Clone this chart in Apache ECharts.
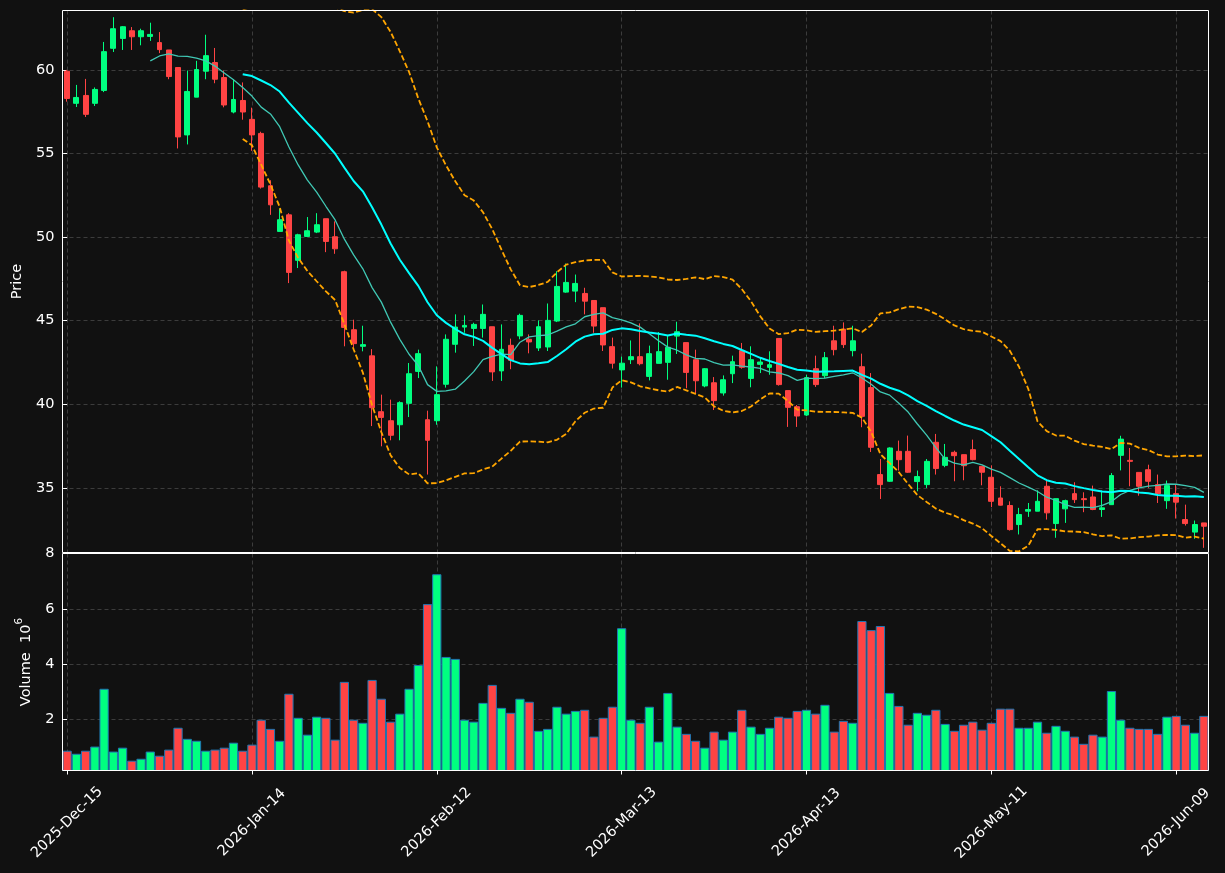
<!DOCTYPE html>
<html>
<head>
<meta charset="utf-8">
<script src="https://cdn.jsdelivr.net/npm/echarts@6/dist/echarts.min.js"></script>
<style>
html,body{margin:0;padding:0;background:#111111;}
#chart{width:1225px;height:873px;}
</style>
</head>
<body>
<div id="chart"></div>
<script>
const dates = [
'2025-Dec-15','2025-Dec-16','2025-Dec-17','2025-Dec-18','2025-Dec-19','2025-Dec-22','2025-Dec-23','2025-Dec-24','2025-Dec-26','2025-Dec-29','2025-Dec-30','2025-Dec-31',
'2026-Jan-02','2026-Jan-05','2026-Jan-06','2026-Jan-07','2026-Jan-08','2026-Jan-09','2026-Jan-12','2026-Jan-13','2026-Jan-14','2026-Jan-15','2026-Jan-16','2026-Jan-20','2026-Jan-21','2026-Jan-22','2026-Jan-23','2026-Jan-26','2026-Jan-27','2026-Jan-28','2026-Jan-29','2026-Jan-30',
'2026-Feb-02','2026-Feb-03','2026-Feb-04','2026-Feb-05','2026-Feb-06','2026-Feb-09','2026-Feb-10','2026-Feb-11','2026-Feb-12','2026-Feb-13','2026-Feb-17','2026-Feb-18','2026-Feb-19','2026-Feb-20','2026-Feb-23','2026-Feb-24','2026-Feb-25','2026-Feb-26','2026-Feb-27',
'2026-Mar-02','2026-Mar-03','2026-Mar-04','2026-Mar-05','2026-Mar-06','2026-Mar-09','2026-Mar-10','2026-Mar-11','2026-Mar-12','2026-Mar-13','2026-Mar-16','2026-Mar-17','2026-Mar-18','2026-Mar-19','2026-Mar-20','2026-Mar-23','2026-Mar-24','2026-Mar-25','2026-Mar-26','2026-Mar-27','2026-Mar-30','2026-Mar-31',
'2026-Apr-01','2026-Apr-02','2026-Apr-06','2026-Apr-07','2026-Apr-08','2026-Apr-09','2026-Apr-10','2026-Apr-13','2026-Apr-14','2026-Apr-15','2026-Apr-16','2026-Apr-17','2026-Apr-20','2026-Apr-21','2026-Apr-22','2026-Apr-23','2026-Apr-24','2026-Apr-27','2026-Apr-28','2026-Apr-29','2026-Apr-30',
'2026-May-01','2026-May-04','2026-May-05','2026-May-06','2026-May-07','2026-May-08','2026-May-11','2026-May-12','2026-May-13','2026-May-14','2026-May-15','2026-May-18','2026-May-19','2026-May-20','2026-May-21','2026-May-22','2026-May-26','2026-May-27','2026-May-28','2026-May-29',
'2026-Jun-01','2026-Jun-02','2026-Jun-03','2026-Jun-04','2026-Jun-05','2026-Jun-08','2026-Jun-09','2026-Jun-10','2026-Jun-11','2026-Jun-12'
];

const opens = [
59.92,58.0,58.47,58.0,58.77,61.29,61.88,62.34,61.98,62.0,61.63,61.19,60.14,56.11,58.37,59.92,60.44,59.54,57.48,58.17,
57.04,56.2,53.07,50.34,51.33,48.61,50.04,50.3,51.1,50.02,47.93,44.46,43.47,42.9,39.56,39.02,38.78,40.06,41.97,39.08,
39.02,41.2,43.59,44.62,44.54,44.54,44.64,42.0,43.53,44.09,43.89,43.37,43.43,44.98,46.71,46.77,46.63,46.21,45.78,43.45,
42.06,42.67,42.85,41.67,42.45,42.51,44.08,43.69,42.67,41.1,41.29,40.68,41.83,43.21,41.55,42.39,42.21,43.94,40.82,39.86,
39.36,42.13,41.71,43.8,44.5,43.21,42.25,41.0,35.8,35.4,37.19,37.19,35.38,35.2,37.73,36.35,37.13,36.99,37.29,36.29,
35.64,34.4,33.95,32.81,33.61,33.61,35.1,32.87,33.75,34.66,34.36,34.46,33.71,34.0,36.95,36.65,35.93,36.09,35.2,34.24,
34.66,33.11,32.36,32.91
];
const closes = [
58.29,58.35,57.34,58.83,61.09,62.46,62.58,61.98,62.34,62.12,61.21,59.6,55.99,58.71,60.02,60.85,59.44,57.9,58.23,57.48,
56.11,52.99,51.93,51.04,47.89,50.14,50.38,50.74,49.74,49.3,44.6,43.63,43.57,39.8,39.22,38.15,40.1,41.83,43.03,37.85,
40.58,43.89,44.62,44.72,44.78,45.38,41.94,43.29,42.63,45.32,43.73,44.64,45.02,47.05,47.29,47.23,46.17,44.68,43.55,42.46,
42.46,42.85,42.43,43.03,43.15,43.41,44.34,41.91,41.41,42.13,40.22,41.47,42.55,42.21,42.67,42.53,42.37,41.18,39.82,39.3,
41.6,41.18,42.79,43.27,43.57,43.8,39.28,37.43,35.2,37.39,36.69,35.94,35.68,36.59,36.16,36.83,36.93,36.33,36.69,35.94,
34.2,33.97,32.51,33.41,33.71,34.2,33.51,34.36,34.24,34.3,34.3,33.71,33.81,35.74,37.92,36.59,35.1,35.4,34.66,35.14,
34.15,32.87,32.81,32.71
];
const lows = [
58.1,57.78,57.18,57.84,58.67,61.07,61.19,61.19,61.47,61.73,61.0,59.44,55.3,55.54,58.37,59.44,59.2,57.76,57.4,57.02,
55.16,52.9,51.33,50.34,47.25,48.15,50.0,50.24,49.1,49.0,43.47,43.4,43.17,38.7,37.49,37.85,37.85,39.24,41.57,35.8,
38.78,41.0,43.09,44.28,43.49,43.99,41.4,41.4,42.1,43.89,43.05,43.19,43.19,44.92,46.67,46.11,45.38,44.28,43.19,42.14,
41.0,42.41,42.33,41.43,42.45,41.47,43.01,40.96,40.66,41.02,39.66,40.52,41.27,42.13,41.02,41.87,41.77,41.12,38.65,38.65,
39.3,41.04,41.57,42.93,43.37,42.87,38.63,37.15,34.34,35.36,36.04,35.9,34.8,35.0,35.8,36.24,35.4,35.46,36.65,35.16,
33.86,33.95,32.45,32.22,33.27,33.61,33.11,32.02,32.91,34.1,33.55,33.67,33.27,34.0,36.05,35.1,34.54,35.0,34.1,33.75,
33.17,32.75,31.96,31.42
];
const highs = [
60.0,59.1,59.46,58.95,61.67,63.15,62.62,62.56,62.46,62.82,62.26,61.19,60.14,59.96,60.54,62.1,61.31,59.96,59.44,59.25,
57.74,56.3,53.4,51.7,51.43,50.2,51.2,51.43,51.1,50.94,47.99,45.06,44.7,43.3,40.58,40.28,40.18,42.47,43.27,39.62,
42.27,44.18,45.38,45.32,44.88,45.97,44.64,44.78,43.93,45.42,44.18,45.02,46.03,47.96,48.42,47.76,46.97,46.21,45.78,43.99,
42.85,43.82,44.84,43.51,44.32,44.12,44.94,43.69,43.27,42.17,41.63,41.73,42.91,43.67,43.47,42.83,43.17,43.94,40.82,39.96,
41.77,42.91,43.13,44.7,44.9,44.7,43.03,41.87,36.73,37.43,37.83,38.13,36.04,36.73,38.23,37.63,37.23,36.99,37.89,36.29,
36.35,35.1,34.2,33.81,34.1,34.86,35.44,34.36,34.3,35.34,34.74,35.14,34.84,35.89,38.12,37.39,35.93,36.39,35.8,35.44,
35.2,34.0,33.05,32.91
];
// Volume in units of 10^6
const volumes = [
0.87,0.76,0.87,1.02,3.11,0.84,0.98,0.51,0.58,0.84,0.69,0.91,1.70,1.30,1.23,0.87,0.91,0.98,1.16,0.87,
1.09,1.99,1.66,1.23,2.93,2.06,1.45,2.10,2.06,1.27,3.36,1.99,1.88,3.43,2.75,1.92,2.21,3.11,3.97,6.17,
7.25,4.26,4.19,1.99,1.92,2.60,3.25,2.42,2.24,2.75,2.64,1.59,1.66,2.46,2.21,2.31,2.35,1.38,2.06,2.46,
5.30,1.99,1.88,2.46,1.20,2.96,1.74,1.48,1.23,0.98,1.56,1.27,1.56,2.35,1.74,1.48,1.70,2.10,2.06,2.31,
2.35,2.21,2.53,1.56,1.95,1.88,5.56,5.23,5.38,2.96,2.49,1.81,2.24,2.17,2.35,1.84,1.59,1.81,1.92,1.63,
1.88,2.39,2.39,1.70,1.70,1.92,1.52,1.77,1.59,1.38,1.12,1.45,1.38,3.03,1.99,1.70,1.66,1.66,1.48,2.10,
2.13,1.81,1.52,2.13
];
const xTickIndex = [0, 20, 40, 60, 80, 100, 120];
const priceTicks = [35, 40, 45, 50, 55, 60];
const volumeTicks = [2, 4, 6, 8];

// Moving averages and Bollinger bands computed from the closes (as the original chart does)
function rollingMean(arr, n) {
  const out = [];
  for (let i = n - 1; i < arr.length; i++) {
    let s = 0;
    for (let j = i - n + 1; j <= i; j++) s += arr[j];
    out.push([i, s / n]);
  }
  return out;
}
function bollinger(arr, n, k) {
  const up = [], lo = [];
  for (let i = n - 1; i < arr.length; i++) {
    let s = 0;
    for (let j = i - n + 1; j <= i; j++) s += arr[j];
    const m = s / n;
    let v = 0;
    for (let j = i - n + 1; j <= i; j++) v += (arr[j] - m) * (arr[j] - m);
    const sd = Math.sqrt(v / n);
    up.push([i, m + k * sd]);
    lo.push([i, m - k * sd]);
  }
  return [up, lo];
}
const ma10 = rollingMean(closes, 10);
const ma20 = rollingMean(closes, 20);
const bb = bollinger(closes, 20, 2);

const UP = '#00ff80', DOWN = '#ff4444';
const FONT = 'DejaVu Sans';
const FS = 14.5;
const gridLine = { show: true, lineStyle: { color: '#3c3c3c', type: [4, 3], width: 1 } };

const candleData = dates.map((d, i) => [i, opens[i], closes[i], lows[i], highs[i]]);
const volData = dates.map((d, i) => ({
  value: [i, volumes[i]],
  itemStyle: { color: closes[i] >= opens[i] ? UP : DOWN }
}));

const P = { left: 62.5, top: 10.5, width: 1146, height: 542 };
const V = { left: 62.5, top: 553.5, width: 1146, height: 217 };

const chart = echarts.init(document.getElementById('chart'), null, { renderer: 'canvas' });
chart.setOption({
  backgroundColor: '#111111',
  animation: false,
  textStyle: { fontFamily: FONT, color: '#ffffff' },
  grid: [
    { left: P.left, top: P.top, width: P.width, height: P.height, show: false },
    { left: V.left, top: V.top, width: V.width, height: V.height, show: false }
  ],
  graphic: [
    { type: 'rect', z: 100, silent: true, shape: { x: P.left, y: P.top, width: P.width, height: P.height },
      style: { fill: null, stroke: '#ffffff', lineWidth: 1 } },
    { type: 'rect', z: 100, silent: true, shape: { x: V.left, y: V.top, width: V.width, height: V.height },
      style: { fill: null, stroke: '#ffffff', lineWidth: 1 } }
  ],
  xAxis: [
    {
      type: 'value', gridIndex: 0, min: -0.5, max: 123.5,
      axisLine: { show: false },
      axisTick: { show: false, customValues: xTickIndex },
      axisLabel: { show: false, customValues: xTickIndex },
      splitLine: gridLine
    },
    {
      type: 'value', gridIndex: 1, min: -0.5, max: 123.5,
      axisLine: { show: false },
      axisTick: { show: true, customValues: xTickIndex, length: 4, lineStyle: { color: '#ffffff', width: 1 } },
      axisLabel: {
        show: true, customValues: xTickIndex, rotate: 45, align: 'center', verticalAlign: 'middle',
        margin: 52, color: '#ffffff', fontSize: FS, fontFamily: FONT,
        formatter: v => dates[Math.round(v)] || ''
      },
      splitLine: gridLine
    }
  ],
  yAxis: [
    {
      type: 'value', gridIndex: 0, min: 31.14, max: 63.55,
      name: 'Price', nameLocation: 'middle', nameGap: 36,
      nameTextStyle: { color: '#ffffff', fontSize: FS, fontFamily: FONT },
      axisLine: { show: false },
      axisTick: { show: true, customValues: priceTicks, length: 4, lineStyle: { color: '#ffffff' } },
      axisLabel: { customValues: priceTicks, color: '#ffffff', fontSize: FS, fontFamily: FONT, margin: 8 },
      splitLine: gridLine
    },
    {
      type: 'value', gridIndex: 1, min: 0.155, max: 8,
      name: '{a|Volume  10}{s|6}', nameLocation: 'middle', nameGap: 29,
      nameTextStyle: {
        color: '#ffffff', fontSize: FS, fontFamily: FONT,
        rich: {
          a: { color: '#ffffff', fontSize: FS, fontFamily: FONT, lineHeight: 20, verticalAlign: 'bottom' },
          s: { color: '#ffffff', fontSize: 10.5, fontFamily: FONT, lineHeight: 20, verticalAlign: 'top' }
        }
      },
      axisLine: { show: false },
      axisTick: { show: true, customValues: volumeTicks, length: 4, lineStyle: { color: '#ffffff' } },
      axisLabel: { customValues: volumeTicks, color: '#ffffff', fontSize: FS, fontFamily: FONT, margin: 8 },
      splitLine: gridLine
    }
  ],
  series: [
    {
      type: 'candlestick', xAxisIndex: 0, yAxisIndex: 0,
      data: candleData, barWidth: '58%',
      itemStyle: { color: UP, color0: DOWN, borderColor: UP, borderColor0: DOWN, borderWidth: 1 }
    },
    {
      type: 'line', xAxisIndex: 0, yAxisIndex: 0, data: ma10, showSymbol: false, symbol: 'none',
      lineStyle: { color: '#40c8b4', width: 1.3 }, z: 3
    },
    {
      type: 'line', xAxisIndex: 0, yAxisIndex: 0, data: ma20, showSymbol: false, symbol: 'none',
      lineStyle: { color: '#00ffff', width: 2 }, z: 3
    },
    {
      type: 'line', xAxisIndex: 0, yAxisIndex: 0, data: bb[0], showSymbol: false, symbol: 'none', clip: true,
      lineStyle: { color: '#ffa500', width: 1.8, type: [5.5, 2.5] }, z: 3
    },
    {
      type: 'line', xAxisIndex: 0, yAxisIndex: 0, data: bb[1], showSymbol: false, symbol: 'none', clip: true,
      lineStyle: { color: '#ffa500', width: 1.8, type: [5.5, 2.5] }, z: 3
    },
    {
      type: 'bar', xAxisIndex: 1, yAxisIndex: 1, data: volData, barWidth: '100%', clip: true,
      itemStyle: { borderColor: '#1f77b4', borderWidth: 1 }
    }
  ]
});
</script>
</body>
</html>
